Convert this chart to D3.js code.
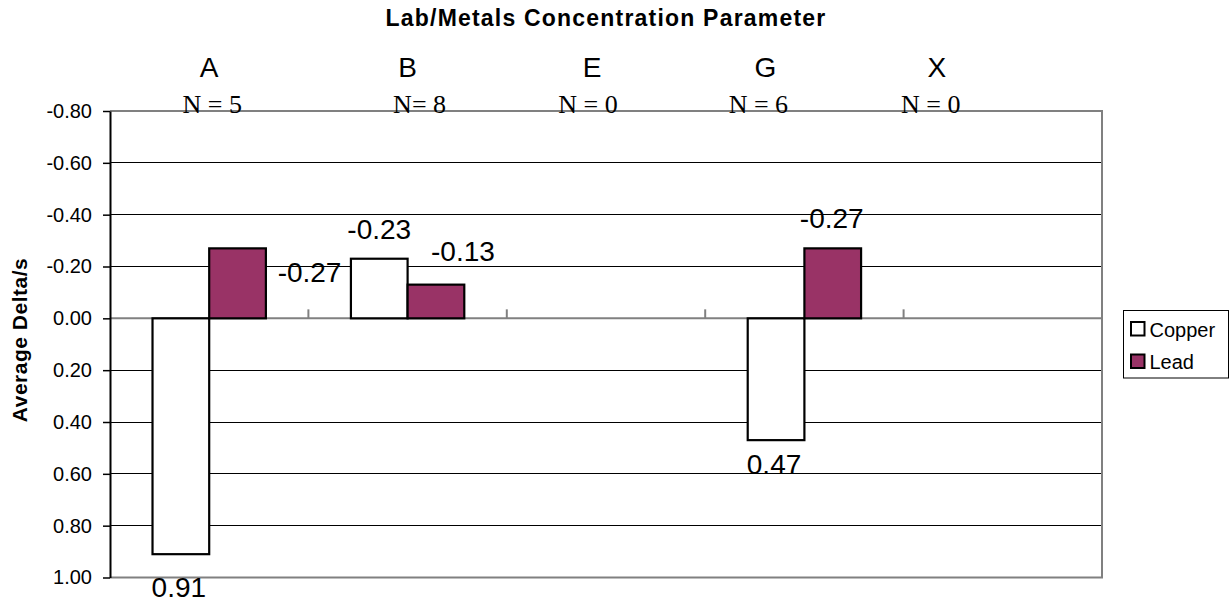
<!DOCTYPE html>
<html>
<head>
<meta charset="utf-8">
<script src="https://cdn.jsdelivr.net/npm/d3@7"></script>
<style>
  html, body { margin: 0; padding: 0; background: #ffffff; }
  svg { display: block; }
  text { font-family: Arial, "Liberation Sans", sans-serif; fill: #000; }
</style>
</head>
<body>
<svg id="chart" width="1231" height="602"></svg>
<script>
// Chart data
const categories = ["A", "B", "E", "G", "X"];
const sampleCounts = ["N = 5", "N= 8", "N = 0", "N = 6", "N = 0"];
const seriesNames = ["Copper", "Lead"];
const copperValues = [0.91, -0.23, null, 0.47, null];
const leadValues = [-0.27, -0.13, null, -0.27, null];
const yTickValues = [-0.8, -0.6, -0.4, -0.2, 0, 0.2, 0.4, 0.6, 0.8, 1.0];

// Layout
const W = 1231, H = 602;
const plot = { left: 110, right: 1102, top: 111, bottom: 577.5 };
const seriesFill = { Copper: "#ffffff", Lead: "#993366" };
// hand-placed header text: x shift from the category centre
const letterShift = [0, 0, -14, -39, -66];
const countShift = [3, 12, -18, -46, -72];
// value label nudges [dx, dy] from the default anchor, per category and series
const labelNudge = {
  Copper: [[-2, 9], null, null, [-2, 0], null],
  Lead: [[72, 54], [27, -4], null, [-1, 0], null]
};

const svg = d3.select("#chart");

const y = d3.scaleLinear().domain([-0.8, 1.0]).range([plot.top, plot.bottom]);
const x0 = d3.scaleBand().domain(categories).range([plot.left, plot.right]).paddingInner(0).paddingOuter(0);
const x1 = d3.scaleBand().domain(seriesNames).range([0, x0.bandwidth()]).paddingInner(0).paddingOuter(0.75);

// two decimals with a plain hyphen for negatives
const fmt2 = d3.format(".2f");
const fmt = v => fmt2(v).replace("\u2212", "-");

// Horizontal gridlines
svg.append("g")
  .selectAll("line")
  .data(yTickValues)
  .join("line")
  .attr("x1", plot.left).attr("x2", plot.right)
  .attr("y1", d => y(d)).attr("y2", d => y(d))
  .attr("stroke", "#000").attr("stroke-width", 1)
  .attr("shape-rendering", "crispEdges");

// Plot border (top, right, bottom)
svg.append("path")
  .attr("d", `M${plot.left},${y(-0.8)}H${plot.right}V${y(1.0)}H${plot.left}`)
  .attr("fill", "none").attr("stroke", "#808080").attr("stroke-width", 2);

// Category axis at zero with ticks between categories
const zeroY = y(0);
svg.append("line")
  .attr("x1", plot.left).attr("x2", plot.right)
  .attr("y1", zeroY).attr("y2", zeroY)
  .attr("stroke", "#808080").attr("stroke-width", 2);
svg.append("g")
  .selectAll("line")
  .data(categories.slice(1))
  .join("line")
  .attr("x1", d => x0(d)).attr("x2", d => x0(d))
  .attr("y1", zeroY).attr("y2", zeroY - 9)
  .attr("stroke", "#808080").attr("stroke-width", 2);

// Bars
const rows = [];
categories.forEach((c, i) => {
  rows.push({ cat: c, i, series: "Copper", value: copperValues[i] });
  rows.push({ cat: c, i, series: "Lead", value: leadValues[i] });
});
const barRows = rows.filter(r => r.value !== null);

svg.append("g")
  .selectAll("rect")
  .data(barRows)
  .join("rect")
  .attr("x", d => x0(d.cat) + x1(d.series))
  .attr("width", x1.bandwidth())
  .attr("y", d => y(Math.min(0, d.value)))
  .attr("height", d => Math.abs(y(d.value) - y(0)))
  .attr("fill", d => seriesFill[d.series])
  .attr("stroke", "#000").attr("stroke-width", 2.2);

// Value labels
svg.append("g")
  .selectAll("text")
  .data(barRows)
  .join("text")
  .attr("x", d => {
    const n = labelNudge[d.series][d.i] || [0, 0];
    return x0(d.cat) + x1(d.series) + x1.bandwidth() / 2 + n[0];
  })
  .attr("y", d => {
    const n = labelNudge[d.series][d.i] || [0, 0];
    const base = d.value < 0 ? y(d.value) - 20 : y(d.value) + 34;
    return base + n[1];
  })
  .attr("text-anchor", "middle")
  .attr("font-size", 28)
  .text(d => fmt(d.value));

// Value axis
const yAxis = svg.append("g")
  .attr("transform", `translate(${plot.left},0)`)
  .call(d3.axisLeft(y).tickValues(yTickValues).tickFormat(fmt).tickSize(7).tickPadding(11).tickSizeOuter(0));
yAxis.select(".domain").attr("stroke", "#000").attr("stroke-width", 2);
yAxis.selectAll(".tick line").attr("stroke", "#000").attr("stroke-width", 1.5);
yAxis.selectAll(".tick text")
  .attr("font-size", 20)
  .attr("font-family", "Arial, 'Liberation Sans', sans-serif")
  .attr("fill", "#000");

// Header: category letters and sample counts
svg.append("g")
  .selectAll("text")
  .data(categories)
  .join("text")
  .attr("x", (d, i) => x0(d) + x0.bandwidth() / 2 + letterShift[i])
  .attr("y", 77)
  .attr("text-anchor", "middle")
  .attr("font-size", 28)
  .text(d => d);

svg.append("g")
  .selectAll("text")
  .data(sampleCounts)
  .join("text")
  .attr("x", (d, i) => x0(categories[i]) + x0.bandwidth() / 2 + countShift[i])
  .attr("y", 112.5)
  .attr("text-anchor", "middle")
  .attr("font-size", 26)
  .style("font-family", "'Liberation Serif', 'Times New Roman', serif")
  .text(d => d);

// Title
svg.append("text")
  .attr("x", (plot.left + plot.right) / 2)
  .attr("y", 26)
  .attr("text-anchor", "middle")
  .attr("font-size", 23)
  .attr("letter-spacing", 1.2)
  .attr("font-weight", "bold")
  .text("Lab/Metals Concentration Parameter");

// Value axis title
svg.append("text")
  .attr("transform", `translate(27,340) rotate(-90)`)
  .attr("text-anchor", "middle")
  .attr("font-size", 21)
  .attr("letter-spacing", 0.5)
  .attr("font-weight", "bold")
  .text("Average Delta/s");

// Legend
const legend = svg.append("g").attr("transform", "translate(1123,310)");
legend.append("rect")
  .attr("x", 0.5).attr("y", 0.5).attr("width", 105).attr("height", 67.5)
  .attr("fill", "#fff").attr("stroke", "#000").attr("stroke-width", 1);
const item = legend.selectAll("g.item")
  .data(seriesNames)
  .join("g")
  .attr("class", "item")
  .attr("transform", (d, i) => `translate(8,${12 + i * 32.5})`);
item.append("rect")
  .attr("width", 13.5).attr("height", 13.5)
  .attr("fill", d => seriesFill[d])
  .attr("stroke", "#000").attr("stroke-width", 2);
item.append("text")
  .attr("x", 18.5).attr("y", 14.5)
  .attr("font-size", 20)
  .text(d => d);
</script>
</body>
</html>
